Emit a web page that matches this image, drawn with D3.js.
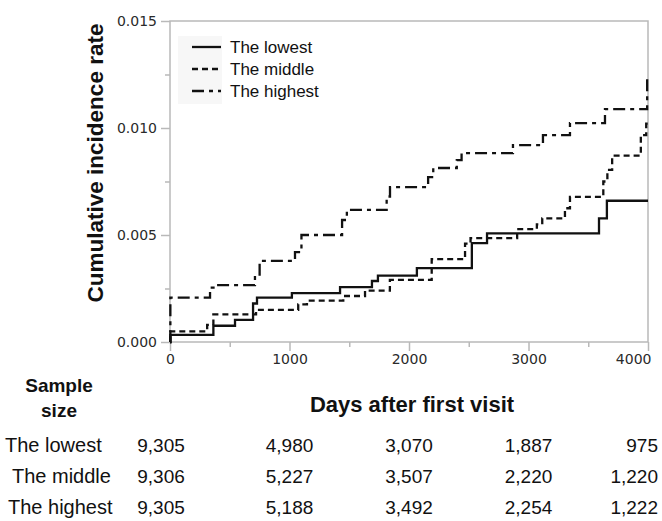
<!DOCTYPE html>
<html>
<head>
<meta charset="utf-8">
<script src="https://cdn.jsdelivr.net/npm/d3@7"></script>
<style>
  body { margin: 0; background: #fff; }
  svg { display: block; }
</style>
</head>
<body>
<svg id="chart" width="662" height="521"></svg>
<script>
// ---- data ----
const seriesNames = ["The lowest", "The middle", "The highest"];

const lowestDays  = [0, 3, 363, 544, 695, 728, 1020, 1423, 1690, 1740, 2066, 2526, 2653, 3590, 3656, 4000];
const lowestRates = [0, 0.00033, 0.00076, 0.00103, 0.0018, 0.00207, 0.00228, 0.00256, 0.00285, 0.0031, 0.00345, 0.00462, 0.00508, 0.00578, 0.0066, 0.0066];

const middleDays  = [0, 3, 311, 363, 720, 1073, 1146, 1450, 1632, 1840, 2190, 2469, 2515, 2905, 3070, 3115, 3305, 3347, 3626, 3660, 3700, 3940, 3985, 4000];
const middleRates = [0, 0.0005, 0.0008, 0.00129, 0.0015, 0.00176, 0.00193, 0.00215, 0.0024, 0.0029, 0.00387, 0.0046, 0.00485, 0.00527, 0.0055, 0.00578, 0.00625, 0.00678, 0.0075, 0.00804, 0.00871, 0.00967, 0.0102, 0.0102];

const highestDays  = [0, 3, 335, 376, 711, 750, 1046, 1100, 1440, 1480, 1813, 1841, 2160, 2203, 2400, 2440, 2870, 3121, 3347, 3640, 3993, 4000];
const highestRates = [0, 0.00207, 0.00254, 0.00266, 0.0031, 0.00379, 0.0042, 0.005, 0.0057, 0.00617, 0.0068, 0.00724, 0.0077, 0.00813, 0.0085, 0.00883, 0.0092, 0.00967, 0.01023, 0.01088, 0.01238, 0.01238];

const xTickValues = [0, 1000, 2000, 3000, 4000];
const xMinorTicks = [500, 1500, 2500, 3500];
const yTickValues = [0, 0.005, 0.010, 0.015];
const yMinorTicks = [0.0025, 0.0075, 0.0125];

const sampleLowest  = ["9,305", "4,980", "3,070", "1,887", "975"];
const sampleMiddle  = ["9,306", "5,227", "3,507", "2,220", "1,220"];
const sampleHighest = ["9,305", "5,188", "3,492", "2,254", "1,222"];

// ---- drawing ----
const svg = d3.select("#chart");
const x = d3.scaleLinear().domain([0, 4000]).range([170, 648]);
const y = d3.scaleLinear().domain([0, 0.015]).range([342, 21]);

const gridColor = "#b9b9b9";
const tickFont = "'DejaVu Sans', Verdana, sans-serif";
const textFont = "'Liberation Sans', Arial, sans-serif";

// frame
svg.append("rect")
  .attr("x", x(0)).attr("y", y(0.015))
  .attr("width", x(4000) - x(0)).attr("height", y(0) - y(0.015))
  .attr("fill", "none").attr("stroke", gridColor).attr("stroke-width", 1.5);

// y axis major
const yAxisG = svg.append("g").attr("transform", `translate(${x(0)},0)`)
  .call(d3.axisLeft(y).tickValues(yTickValues).tickSize(9).tickPadding(4).tickFormat(d3.format(".3f")));
const yMinorG = svg.append("g").attr("transform", `translate(${x(0)},0)`)
  .call(d3.axisLeft(y).tickValues(yMinorTicks).tickSize(5).tickFormat(""));
// x axis
const xAxisG = svg.append("g").attr("transform", `translate(0,${y(0)})`)
  .call(d3.axisBottom(x).tickValues(xTickValues).tickSize(9).tickPadding(3).tickFormat(d3.format("d")));
const xMinorG = svg.append("g").attr("transform", `translate(0,${y(0)})`)
  .call(d3.axisBottom(x).tickValues(xMinorTicks).tickSize(5).tickFormat(""));

[yAxisG, yMinorG, xAxisG, xMinorG].forEach(g => {
  g.select(".domain").remove();
  g.selectAll(".tick line").attr("stroke", gridColor).attr("stroke-width", 1.5);
  g.selectAll(".tick text").attr("fill", "#2a2a2a").style("font-family", tickFont).style("font-size", "14px");
});
xAxisG.selectAll(".tick text").filter(d => d === 4000).attr("text-anchor", "end").attr("dx", 3);

// y-axis title
svg.append("text")
  .attr("transform", "translate(103,163) rotate(-90)")
  .attr("text-anchor", "middle")
  .style("font-family", textFont).style("font-size", "22.5px").style("font-weight", "bold")
  .attr("fill", "#111")
  .text("Cumulative incidence rate");

// lines
const line = d3.line().x(d => x(d[0])).y(d => y(d[1])).curve(d3.curveStepAfter);
const series = [
  { name: seriesNames[0], pts: d3.zip(lowestDays, lowestRates), dash: null },
  { name: seriesNames[1], pts: d3.zip(middleDays, middleRates), dash: "6,4" },
  { name: seriesNames[2], pts: d3.zip(highestDays, highestRates), dash: "12,5,4,5" }
];
series.forEach(s => {
  svg.append("path")
    .attr("d", line(s.pts))
    .attr("fill", "none")
    .attr("stroke", "#111")
    .attr("stroke-width", 2.3)
    .attr("stroke-dasharray", s.dash);
});

// legend
svg.append("rect").attr("x", 178).attr("y", 36).attr("width", 44).attr("height", 68).attr("fill", "#f7f7f7");
const legendY = [47, 69, 91];
series.forEach((s, i) => {
  svg.append("line")
    .attr("x1", 192).attr("x2", 221).attr("y1", legendY[i]).attr("y2", legendY[i])
    .attr("stroke", "#111").attr("stroke-width", 2.3).attr("stroke-dasharray", s.dash);
  svg.append("text")
    .attr("x", 230).attr("y", legendY[i] + 6)
    .style("font-family", textFont).style("font-size", "17px")
    .attr("fill", "#111")
    .text(s.name);
});

// table
svg.append("text").attr("x", 59).attr("y", 392).attr("text-anchor", "middle")
  .style("font-family", textFont).style("font-size", "19px").style("font-weight", "bold").attr("fill", "#111")
  .text("Sample");
svg.append("text").attr("x", 59).attr("y", 417).attr("text-anchor", "middle")
  .style("font-family", textFont).style("font-size", "19px").style("font-weight", "bold").attr("fill", "#111")
  .text("size");
svg.append("text").attr("x", 412).attr("y", 412).attr("text-anchor", "middle")
  .style("font-family", textFont).style("font-size", "22px").style("font-weight", "bold").attr("fill", "#111")
  .text("Days after first visit");

const rows = [sampleLowest, sampleMiddle, sampleHighest];
const rowBase = [452, 483, 514];
const rowLabelX = [5, 12, 8];
rows.forEach((vals, r) => {
  svg.append("text").attr("x", rowLabelX[r]).attr("y", rowBase[r])
    .style("font-family", textFont).style("font-size", "20px").attr("fill", "#111")
    .text(seriesNames[r]);
  vals.forEach((v, c) => {
    const t = xTickValues[c];
    let px = x(t), anchor = "middle";
    if (c === 0) { px = x(t) - 9; }
    if (c === vals.length - 1) { px = x(t) + 10; anchor = "end"; }
    svg.append("text").attr("x", px).attr("y", rowBase[r]).attr("text-anchor", anchor)
      .style("font-family", textFont).style("font-size", "19px").attr("fill", "#111")
      .text(v);
  });
});
</script>
</body>
</html>
